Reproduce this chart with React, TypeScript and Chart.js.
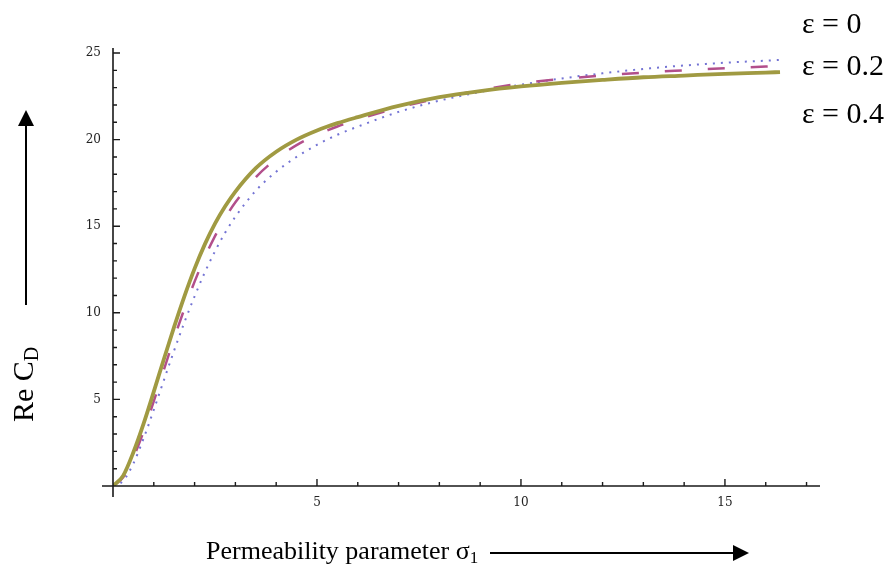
import React, { useEffect, useRef } from "react";
import { Chart, registerables } from "chart.js";

Chart.register(...registerables);

// sigma_1 sample positions
const sigma: number[] = [0, 0.25, 0.5, 0.75, 1, 1.25, 1.5, 1.75, 2, 2.25, 2.5, 2.75, 3, 3.5, 4, 4.5, 5, 5.5, 6, 7, 8, 9, 10, 11, 12, 13, 14, 15, 16, 16.35];

// Re C_D for each epsilon
const eps0: number[] = [0, 0.6, 1.95, 3.6, 5.45, 7.35, 9.2, 10.95, 12.55, 13.95, 15.15, 16.15, 17.0, 18.35, 19.3, 20.0, 20.53, 20.95, 21.3, 21.95, 22.45, 22.8, 23.07, 23.28, 23.45, 23.6, 23.7, 23.8, 23.87, 23.9];
const eps02: number[] = [0, 0.5, 1.65, 3.15, 4.9, 6.73, 8.53, 10.23, 11.8, 13.2, 14.43, 15.48, 16.38, 17.83, 18.88, 19.68, 20.28, 20.76, 21.16, 21.85, 22.4, 22.85, 23.25, 23.5, 23.7, 23.87, 24.0, 24.12, 24.22, 24.25];
const eps04: number[] = [0, 0.3, 1.3, 2.75, 4.4, 6.13, 7.83, 9.45, 10.95, 12.33, 13.55, 14.63, 15.55, 17.05, 18.15, 19.0, 19.7, 20.28, 20.75, 21.6, 22.25, 22.75, 23.17, 23.53, 23.83, 24.08, 24.28, 24.44, 24.56, 24.6];

const legendLabels: string[] = ["ε = 0", "ε = 0.2", "ε = 0.4"];
const xTickLabels: number[] = [5, 10, 15];
const yTickLabels: number[] = [5, 10, 15, 20, 25];
const xMinorTicks: number[] = [1, 2, 3, 4, 6, 7, 8, 9, 11, 12, 13, 14, 16, 17];
const yMinorTicks: number[] = [1, 2, 3, 4, 6, 7, 8, 9, 11, 12, 13, 14, 16, 17, 18, 19, 21, 22, 23, 24];

const toPts = (ys: number[]) => sigma.map((x, i) => ({ x, y: ys[i] }));

const axesPlugin = {
  id: "mmaAxes",
  afterDraw(chart: any) {
    const ctx = chart.ctx as CanvasRenderingContext2D;
    const xs = chart.scales.x;
    const ys = chart.scales.y;
    const x0 = xs.getPixelForValue(0);
    const y0 = ys.getPixelForValue(0);
    ctx.save();
    ctx.strokeStyle = "#1a1a1a";
    ctx.lineWidth = 1.6;
    // axis lines
    ctx.beginPath();
    ctx.moveTo(x0 - 11, y0);
    ctx.lineTo(chart.chartArea.right, y0);
    ctx.moveTo(x0, ys.top);
    ctx.lineTo(x0, y0 + 11);
    ctx.stroke();
    // ticks
    ctx.lineWidth = 1.4;
    ctx.beginPath();
    xTickLabels.forEach((v) => {
      const p = xs.getPixelForValue(v);
      ctx.moveTo(p, y0);
      ctx.lineTo(p, y0 - 7);
    });
    xMinorTicks.forEach((v) => {
      const p = xs.getPixelForValue(v);
      ctx.moveTo(p, y0);
      ctx.lineTo(p, y0 - 4);
    });
    yTickLabels.forEach((v) => {
      const p = ys.getPixelForValue(v);
      ctx.moveTo(x0, p);
      ctx.lineTo(x0 + 7, p);
    });
    yMinorTicks.forEach((v) => {
      const p = ys.getPixelForValue(v);
      ctx.moveTo(x0, p);
      ctx.lineTo(x0 + 4, p);
    });
    ctx.stroke();

    // annotation arrows
    ctx.strokeStyle = "#000";
    ctx.fillStyle = "#000";
    ctx.lineWidth = 2;
    ctx.beginPath();
    ctx.moveTo(26, 305);
    ctx.lineTo(26, 124);
    ctx.moveTo(490, 553);
    ctx.lineTo(734, 553);
    ctx.stroke();
    ctx.beginPath();
    ctx.moveTo(26, 110);
    ctx.lineTo(18, 126);
    ctx.lineTo(34, 126);
    ctx.closePath();
    ctx.fill();
    ctx.beginPath();
    ctx.moveTo(749, 553);
    ctx.lineTo(733, 545);
    ctx.lineTo(733, 561);
    ctx.closePath();
    ctx.fill();
    ctx.restore();
  },
};

export default function App() {
  const canvasRef = useRef<HTMLCanvasElement | null>(null);

  useEffect(() => {
    document.body.style.margin = "0";
    const canvas = canvasRef.current;
    if (!canvas) return;
    const chart = new Chart(canvas, {
      type: "line",
      data: {
        datasets: [
          {
            label: legendLabels[0],
            data: toPts(eps0),
            borderColor: "#a09a42",
            borderWidth: 3.8,
            pointRadius: 0,
            cubicInterpolationMode: "monotone",
            order: 0,
          },
          {
            label: legendLabels[1],
            data: toPts(eps02),
            borderColor: "#b24f8b",
            borderWidth: 2.5,
            borderDash: [17, 26],
            pointRadius: 0,
            cubicInterpolationMode: "monotone",
            order: 1,
          },
          {
            label: legendLabels[2],
            data: toPts(eps04),
            borderColor: "#7474d4",
            borderWidth: 2,
            borderDash: [2, 6],
            pointRadius: 0,
            cubicInterpolationMode: "monotone",
            order: 2,
          },
        ],
      },
      options: {
        responsive: false,
        animation: false,
        layout: { padding: { left: 0, top: 48, right: 71, bottom: 0 } },
        plugins: { legend: { display: false }, tooltip: { enabled: false } },
        scales: {
          x: {
            type: "linear",
            min: 0,
            max: 17.33,
            grid: { display: false, drawTicks: false },
            border: { display: false },
            afterFit: (s: any) => {
              s.height = 83;
            },
            afterBuildTicks: (s: any) => {
              s.ticks = xTickLabels.map((v) => ({ value: v }));
            },
            ticks: {
              padding: 10,
              maxRotation: 0,
              autoSkip: false,
              color: "#222",
              font: { family: "'DejaVu Serif', serif", size: 12 },
            },
          },
          y: {
            type: "linear",
            min: 0,
            max: 25.29,
            grid: { display: false, drawTicks: false },
            border: { display: false },
            afterFit: (s: any) => {
              s.width = 113;
            },
            afterBuildTicks: (s: any) => {
              s.ticks = yTickLabels.map((v) => ({ value: v }));
            },
            ticks: {
              padding: 12,
              autoSkip: false,
              color: "#222",
              font: { family: "'DejaVu Serif', serif", size: 12 },
            },
          },
        },
      },
      plugins: [axesPlugin],
    });
    return () => chart.destroy();
  }, []);

  const serif = "'Liberation Serif', 'Times New Roman', serif";
  const legendTops = [8, 50, 98];

  return (
    <div style={{ position: "relative", width: 891, height: 569, background: "#fff", overflow: "hidden" }}>
      <canvas ref={canvasRef} width={891} height={569} style={{ position: "absolute", left: 0, top: 0, width: 891, height: 569 }} />
      {legendLabels.map((t, i) => (
        <div
          key={t}
          style={{
            position: "absolute",
            left: 802,
            top: legendTops[i],
            fontFamily: serif,
            fontSize: 30,
            lineHeight: 1,
            whiteSpace: "nowrap",
            color: "#000",
          }}
        >
          {t}
        </div>
      ))}
      <div
        style={{
          position: "absolute",
          left: 8,
          top: 422,
          transformOrigin: "0 0",
          transform: "rotate(-90deg)",
          fontFamily: serif,
          fontSize: 30,
          lineHeight: 1,
          whiteSpace: "nowrap",
          color: "#000",
        }}
      >
        Re C<span style={{ fontSize: 20, position: "relative", top: 5 }}>D</span>
      </div>
      <div
        style={{
          position: "absolute",
          left: 206,
          top: 538,
          fontFamily: serif,
          fontSize: 26,
          lineHeight: 1,
          whiteSpace: "nowrap",
          color: "#000",
        }}
      >
        Permeability parameter σ<span style={{ fontSize: 17, position: "relative", top: 4 }}>1</span>
      </div>
    </div>
  );
}
